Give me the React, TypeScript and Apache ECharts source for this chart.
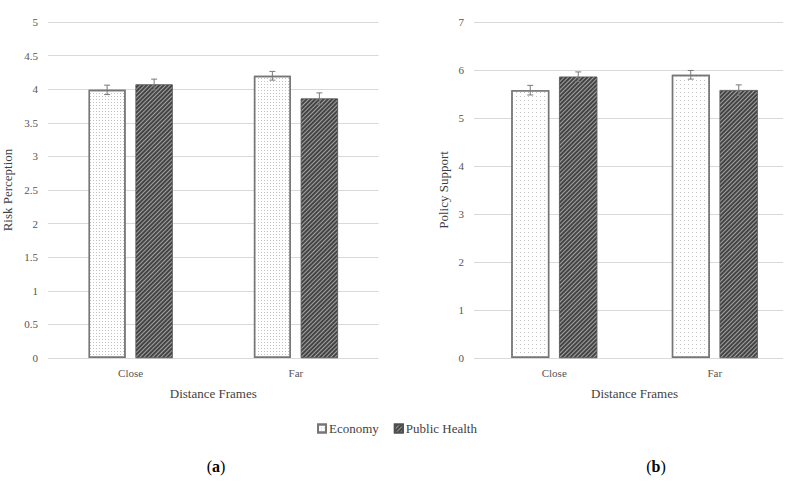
import React, { useEffect, useRef } from 'react';
import * as echarts from 'echarts';

const categories = ['Close', 'Far'];
const seriesNames = ['Economy', 'Public Health'];

// (a) Risk Perception
const riskEconomy = [3.99, 4.2];
const riskEconomyErr = [0.07, 0.065];
const riskHealth = [4.07, 3.86];
const riskHealthErr = [0.08, 0.085];

// (b) Policy Support
const policyEconomy = [5.58, 5.9];
const policyEconomyErr = [0.1, 0.09];
const policyHealth = [5.86, 5.58];
const policyHealthErr = [0.1, 0.11];

const riskTicks = { min: 0, max: 5, interval: 0.5 };
const policyTicks = { min: 0, max: 7, interval: 1 };

const FONT = 'Liberation Serif';

function errData(econ: number[], econErr: number[], health: number[], healthErr: number[]) {
  const out: number[][] = [];
  econ.forEach((v, i) => out.push([i, v, econErr[i], 0]));
  health.forEach((v, i) => out.push([i, v, healthErr[i], 1]));
  return out;
}

function makeErrRender(offset: number) {
  return (params: any, api: any) => {
    const idx = api.value(0);
    const m = api.value(1);
    const e = api.value(2);
    const w = api.value(3);
    const c = api.coord([idx, m]);
    const x = c[0] + (w === 0 ? -offset : offset);
    const yTop = api.coord([idx, m + e])[1];
    const yBot = api.coord([idx, m - e])[1];
    const style = { stroke: '#7a7a7a', lineWidth: 1 };
    const cap = 3;
    return {
      type: 'group',
      children: [
        { type: 'line', shape: { x1: x, y1: yTop, x2: x, y2: yBot }, style },
        { type: 'line', shape: { x1: x - cap, y1: yTop, x2: x + cap, y2: yTop }, style },
        { type: 'line', shape: { x1: x - cap, y1: yBot, x2: x + cap, y2: yBot }, style },
      ],
    };
  };
}

const econStyle = (dense: boolean) => ({
  color: '#ffffff',
  borderColor: '#767676',
  borderWidth: 1.4,
  decal: {
    symbol: 'rect',
    symbolSize: 1,
    dashArrayX: dense ? [1, 2] : [1, 3],
    dashArrayY: dense ? [1, 2] : [1, 3],
    color: '#c2c2c2',
  },
});

const healthStyle = {
  color: '#444444',
  borderColor: '#505050',
  borderWidth: 0.5,
  decal: {
    symbol: 'rect',
    symbolSize: 1,
    dashArrayX: [1, 0],
    dashArrayY: [1, 1.2],
    rotation: -Math.PI / 4,
    color: '#a2a2a2',
  },
};

const axisLabelStyle = { fontFamily: FONT, fontSize: 11, color: '#555555' };
const axisNameStyle = { fontFamily: FONT, fontSize: 13, color: '#3f3f3f' };

export default function App() {
  const ref = useRef<HTMLDivElement>(null);
  useEffect(() => {
    if (!ref.current) return;
    const chart = echarts.init(ref.current, undefined, { renderer: 'svg' });
    chart.setOption({
      animation: false,
      backgroundColor: '#ffffff',
      textStyle: { fontFamily: FONT },
      grid: [
        { left: 47.5, width: 331, top: 22, height: 336 },
        { left: 474, width: 339, top: 22, height: 336 },
        { left: 474, width: 309, top: 22, height: 336 },
      ],
      legend: {
        data: seriesNames,
        left: 312,
        top: 417,
        itemWidth: 8,
        itemHeight: 8,
        itemGap: 15,
        icon: 'rect',
        textStyle: { fontFamily: FONT, fontSize: 13, color: '#3f3f3f', padding: [0, 0, 0, -2] },
      },
      xAxis: [
        {
          type: 'category',
          gridIndex: 0,
          data: categories,
          axisLine: { show: false },
          axisTick: { show: false },
          axisLabel: { ...axisLabelStyle, margin: 9 },
          name: 'Distance Frames',
          nameLocation: 'middle',
          nameGap: 29,
          nameTextStyle: axisNameStyle,
        },
        {
          type: 'category',
          gridIndex: 1,
          data: categories,
          axisLine: { show: false },
          axisTick: { show: false },
          axisLabel: { ...axisLabelStyle, margin: 9 },
          name: 'Distance Frames',
          nameLocation: 'middle',
          nameGap: 29,
          nameTextStyle: axisNameStyle,
        },
        { type: 'value', gridIndex: 2, show: false, min: 0, max: 1 },
      ],
      yAxis: [
        {
          type: 'value',
          gridIndex: 0,
          ...riskTicks,
          axisLine: { show: false },
          axisTick: { show: false },
          splitLine: { lineStyle: { color: '#d9d9d9', width: 1 } },
          axisLabel: { ...axisLabelStyle, margin: 10 },
          name: 'Risk Perception',
          nameLocation: 'middle',
          nameGap: 34,
          nameTextStyle: axisNameStyle,
        },
        { type: 'value', gridIndex: 1, ...policyTicks, show: false },
        {
          type: 'value',
          gridIndex: 2,
          ...policyTicks,
          axisLine: { show: false },
          axisTick: { show: false },
          splitLine: { lineStyle: { color: '#d9d9d9', width: 1 } },
          axisLabel: { ...axisLabelStyle, margin: 10 },
          name: 'Policy Support',
          nameLocation: 'middle',
          nameGap: 24,
          nameTextStyle: axisNameStyle,
        },
      ],
      series: [
        {
          name: 'Economy',
          type: 'bar',
          xAxisIndex: 0,
          yAxisIndex: 0,
          data: riskEconomy,
          barWidth: 37,
          barGap: '27%',
          itemStyle: econStyle(true),
        },
        {
          name: 'Public Health',
          type: 'bar',
          xAxisIndex: 0,
          yAxisIndex: 0,
          data: riskHealth,
          barWidth: 37,
          barGap: '27%',
          itemStyle: healthStyle,
        },
        {
          name: 'Economy',
          type: 'bar',
          xAxisIndex: 1,
          yAxisIndex: 1,
          data: policyEconomy,
          barWidth: 38,
          barGap: '26%',
          itemStyle: econStyle(false),
        },
        {
          name: 'Public Health',
          type: 'bar',
          xAxisIndex: 1,
          yAxisIndex: 1,
          data: policyHealth,
          barWidth: 38,
          barGap: '26%',
          itemStyle: healthStyle,
        },
        {
          type: 'custom',
          name: 'errA',
          xAxisIndex: 0,
          yAxisIndex: 0,
          data: errData(riskEconomy, riskEconomyErr, riskHealth, riskHealthErr),
          renderItem: makeErrRender(23.5),
          z: 5,
          silent: true,
        },
        {
          type: 'custom',
          name: 'errB',
          xAxisIndex: 1,
          yAxisIndex: 1,
          data: errData(policyEconomy, policyEconomyErr, policyHealth, policyHealthErr),
          renderItem: makeErrRender(24),
          z: 5,
          silent: true,
        },
      ],
      graphic: [
        {
          type: 'text',
          x: 216,
          y: 466,
          style: {
            text: '({b|a})',
            textAlign: 'center',
            textVerticalAlign: 'middle',
            fontFamily: FONT,
            fontSize: 16,
            fill: '#000',
            rich: { b: { fontWeight: 'bold', fontSize: 16, fontFamily: FONT, fill: '#000' } },
          },
        },
        {
          type: 'text',
          x: 656,
          y: 466,
          style: {
            text: '({b|b})',
            textAlign: 'center',
            textVerticalAlign: 'middle',
            fontFamily: FONT,
            fontSize: 16,
            fill: '#000',
            rich: { b: { fontWeight: 'bold', fontSize: 16, fontFamily: FONT, fill: '#000' } },
          },
        },
      ],
    });
    return () => chart.dispose();
  }, []);
  return (
    <div
      ref={ref}
      style={{ position: 'absolute', left: 0, top: 0, width: 795, height: 482, background: '#fff' }}
    />
  );
}
